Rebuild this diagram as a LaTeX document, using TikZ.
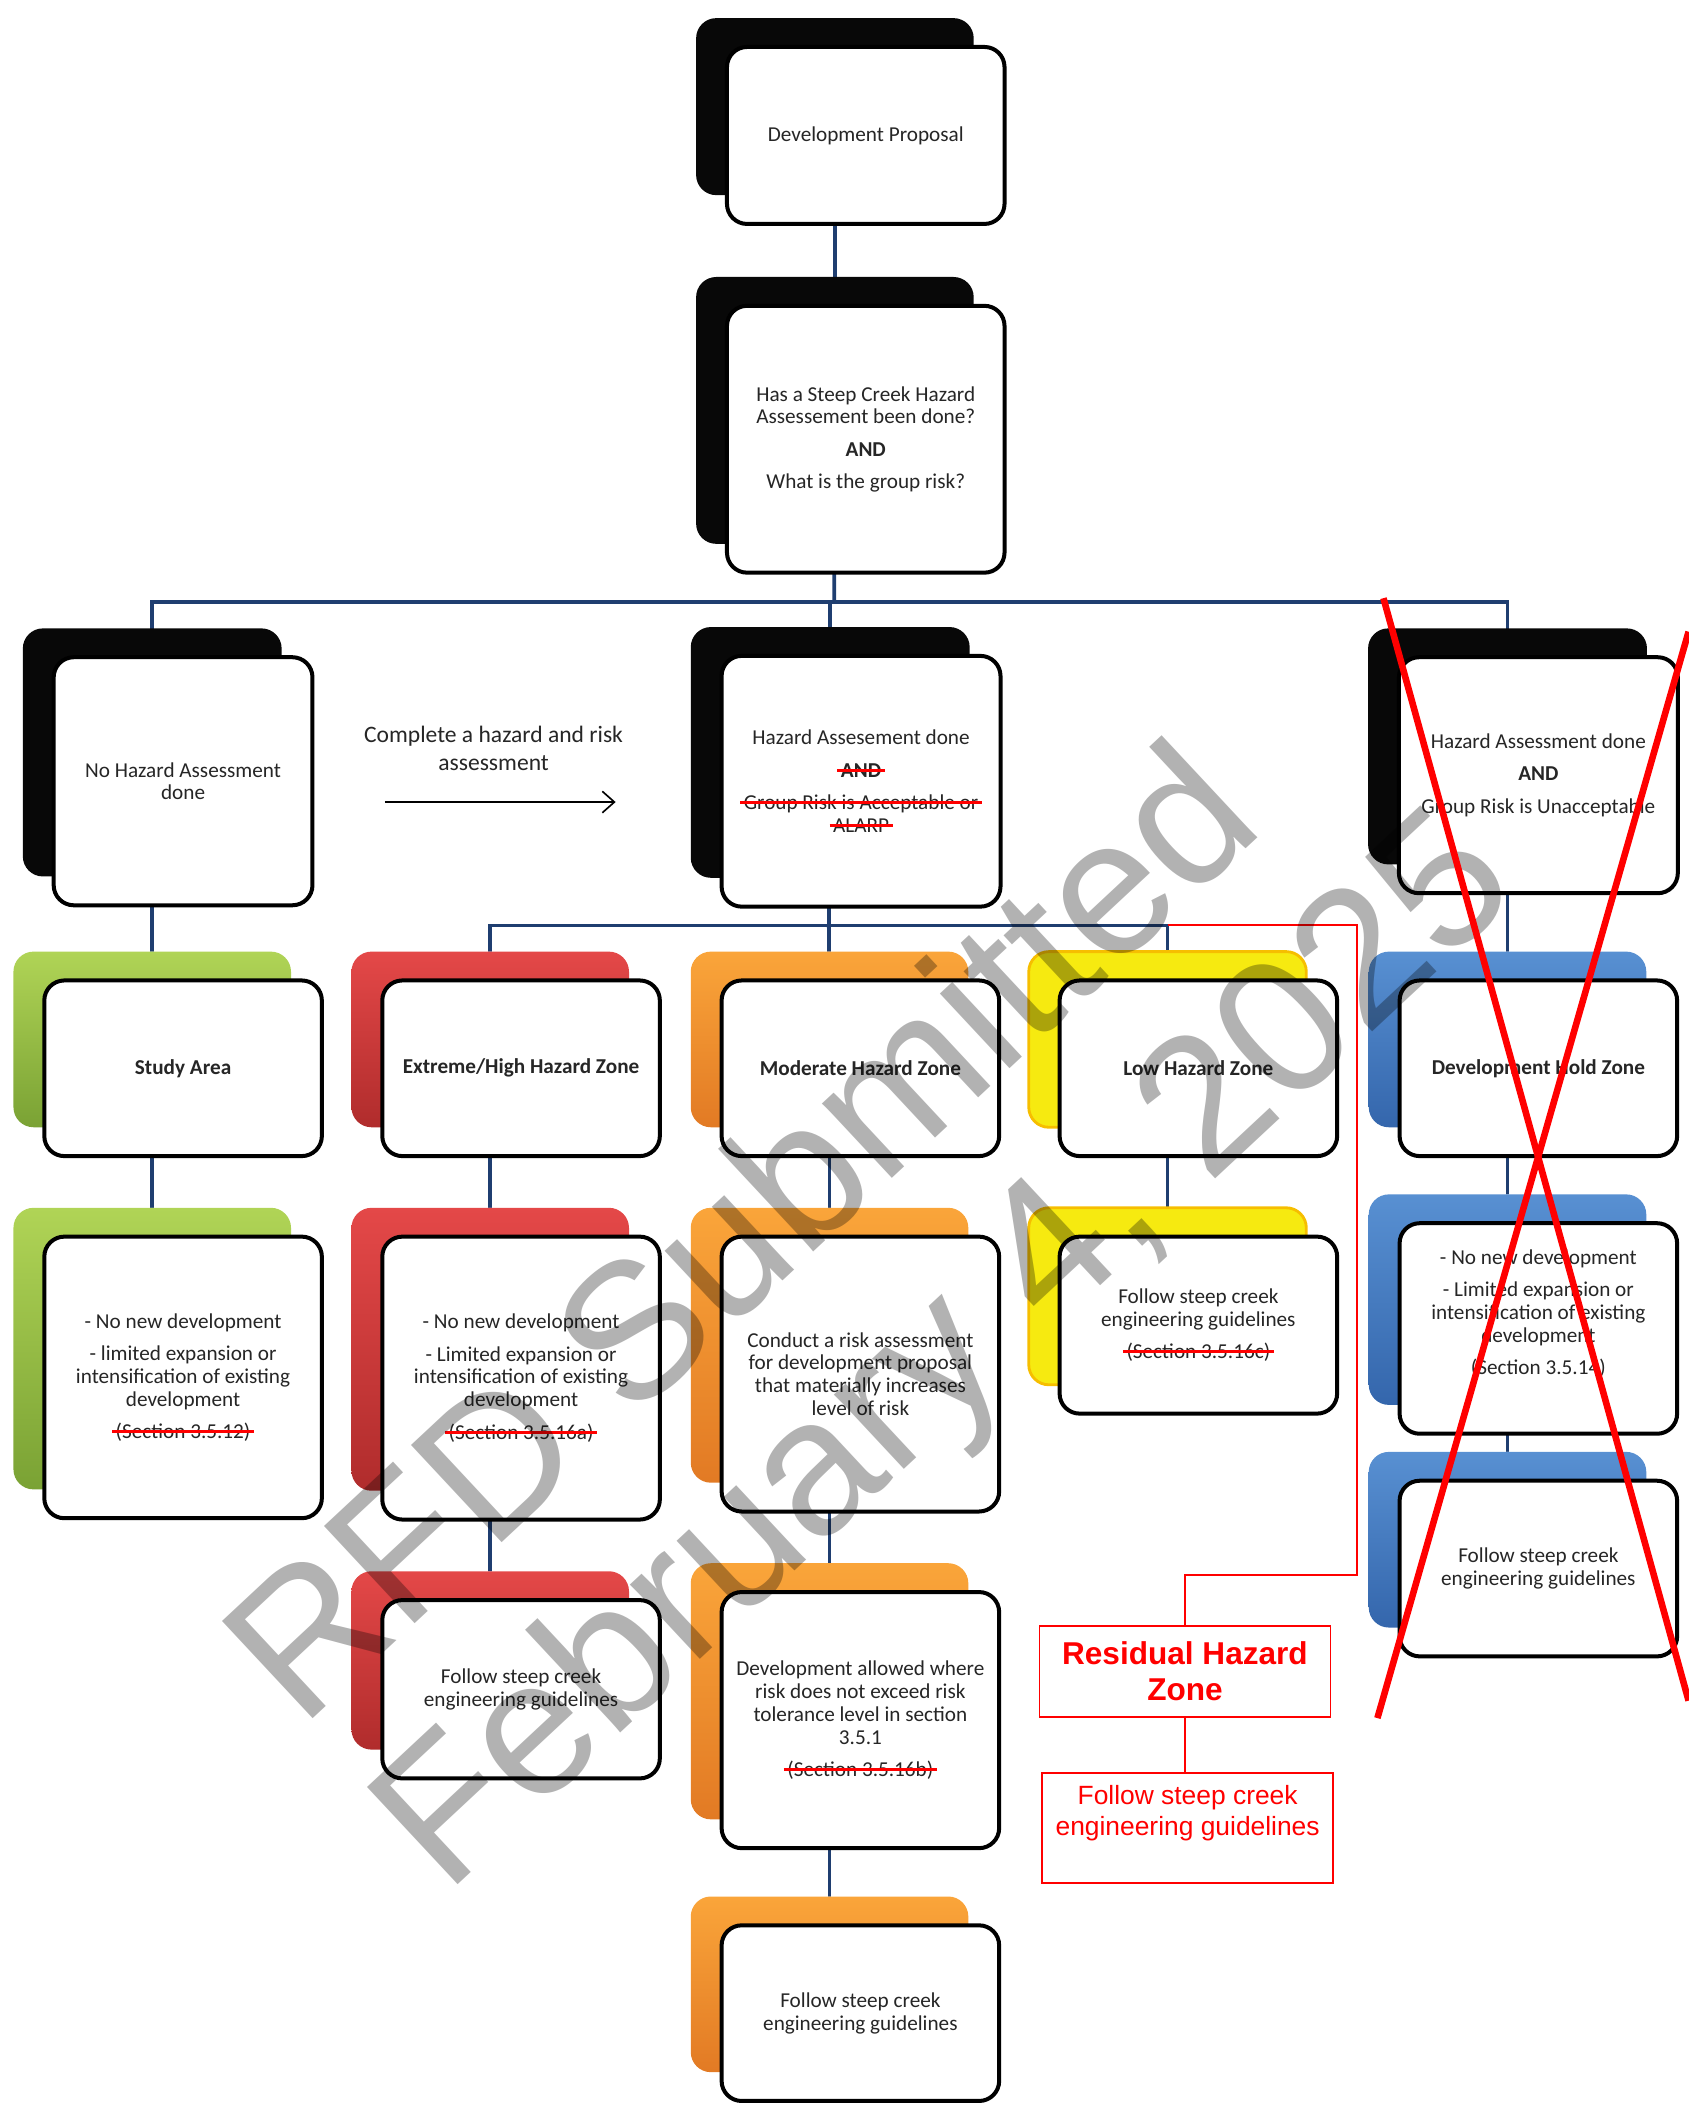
\documentclass[tikz,border=0pt]{standalone}
\usepackage{fontspec}
\setmainfont{Carlito}
\newfontfamily\arialfont{Liberation Sans}
\usetikzlibrary{positioning}
\usetikzlibrary{shadows}
\usetikzlibrary{backgrounds}
\usetikzlibrary{arrows.meta}

\definecolor{ink}{RGB}{38,38,38}
\definecolor{navy}{RGB}{31,62,112}
\definecolor{redline}{RGB}{255,0,0}
\definecolor{backblack}{RGB}{8,8,8}
\definecolor{greentop}{RGB}{176,212,86}
\definecolor{greenbot}{RGB}{122,162,52}
\definecolor{redtop}{RGB}{228,72,72}
\definecolor{redbot}{RGB}{176,44,44}
\definecolor{orangetop}{RGB}{250,165,58}
\definecolor{orangebot}{RGB}{226,122,36}
\definecolor{yellowfill}{RGB}{246,234,16}
\definecolor{yellowedge}{RGB}{246,190,0}
\definecolor{bluetop}{RGB}{88,144,210}
\definecolor{bluebot}{RGB}{52,102,172}

\newsavebox\strikebox
\newcommand\redout[1]{\sbox\strikebox{#1}\rlap{\usebox\strikebox}\kern-1.5pt\textcolor{redline}{\rule[0.55ex]{\dimexpr\wd\strikebox+3pt\relax}{1.2pt}}\kern-1.5pt}
\newcommand\boxfont{\fontsize{9}{9.7}\selectfont}

\tikzset{
  card/.style={draw=black, line width=1.7pt, fill=white, rounded corners=0.3cm,
    minimum width=4.14cm, align=center, text=ink, font=\boxfont, inner sep=2pt,
    copy shadow={shadow xshift=-0.46cm, shadow yshift=0.43cm, draw=none, #1}},
  card/.default={fill=backblack},
  blackcard/.style={card={fill=backblack}},
  greencard/.style={card={top color=greentop, bottom color=greenbot}},
  redcard/.style={card={top color=redtop, bottom color=redbot}},
  orangecard/.style={card={top color=orangetop, bottom color=orangebot}},
  yellowcard/.style={card={fill=yellowfill, draw=yellowedge, line width=1.2pt}},
  bluecard/.style={card={top color=bluetop, bottom color=bluebot}},
  link/.style={draw=navy, line width=1.6pt},
  redlink/.style={draw=redline, line width=0.8pt},
  redbox/.style={draw=redline, line width=0.8pt, minimum width=4.34cm, align=center, text=redline},
  flow/.style={-{Straight Barb[length=1.8mm,width=3.2mm]}, line width=0.7pt},
  wmark/.style={text=black, text opacity=0.3, font=\arialfont\fontsize{82}{90}\selectfont, inner sep=0pt},
  cross/.style={draw=redline, line width=2.8pt}
}

\begin{document}
\begin{tikzpicture}[x=0.02cm, y=-0.02cm]
  \useasboundingbox (0,0) rectangle (1259,1568);

  % proposal and question
  \node[blackcard, minimum height=2.64cm] (prop) at (645.5,101) {Development Proposal};
  \node[blackcard, minimum height=3.98cm] (ask) at (645.5,327.5)
    {Has a Steep Creek Hazard\\Assessement been done?\\[4pt]\textbf{AND}\\[4pt]What is the group risk?};

  % outcome of the assessment
  \node[blackcard, minimum width=3.86cm, minimum height=3.7cm] (nodone) at (136.5,582.5) {No Hazard Assessment\\done};
  \node[blackcard, minimum width=4.16cm, minimum height=3.74cm] (done) at (642,582.5)
    {Hazard Assesement done\\[4pt]\redout{\textbf{AND}}\\[4pt]\redout{Group Risk is Acceptable or}\\\redout{ALARP}};
  \node[blackcard, minimum width=4.16cm, minimum height=3.52cm] (unacc) at (1147,578)
    {Hazard Assessment done\\[4pt]\textbf{AND}\\[4pt]Group Risk is Unacceptable};
  \node[font=\fontsize{10}{12}\selectfont, text=ink, align=center] (todo) at (368,558) {Complete a hazard and risk\\assessment};
  \coordinate (todoS) at (287,598);
  \coordinate (todoE) at (459,598);

  % zones
  \node[greencard, minimum height=2.62cm] (study) at (136.5,796.5) {\textbf{Study Area}};
  \node[redcard, minimum height=2.62cm] (ext) at (388.5,796.5) {\textbf{Extreme/High Hazard Zone}};
  \node[orangecard, minimum height=2.62cm] (mod) at (641.5,796.5) {\textbf{Moderate Hazard Zone}};
  \node[yellowcard, minimum height=2.62cm] (low) at (893.5,796.5) {\textbf{Low Hazard Zone}};
  \node[bluecard, minimum height=2.62cm] (hold) at (1147,796.5) {\textbf{Development Hold Zone}};

  % what each zone allows
  \node[greencard, minimum height=4.2cm] (study2) at (136.5,1027)
    {- No new development\\[4pt]- limited expansion or\\intensification of existing\\development\\[4pt]\redout{(Section 3.5.12)}};
  \node[redcard, minimum height=4.22cm] (ext2) at (388.5,1027.5)
    {- No new development\\[4pt]- Limited expansion or\\intensification of existing\\development\\[4pt]\redout{(Section 3.5.16a)}};
  \node[orangecard, minimum height=4.1cm] (mod2) at (641.5,1024.5)
    {Conduct a risk assessment\\for development proposal\\that materially increases\\level of risk};
  \node[yellowcard, minimum height=2.64cm] (low2) at (893.5,988)
    {Follow steep creek\\engineering guidelines\\[4pt]\redout{(Section 3.5.16c)}};
  \node[bluecard, minimum height=3.14cm] (hold2) at (1147,990.5)
    {- No new development\\[4pt]- Limited expansion or\\intensification of existing\\development\\[4pt](Section 3.5.14)\\[0.14cm]\mbox{}};

  \node[redcard, minimum height=2.66cm] (ext3) at (388.5,1259.5) {Follow steep creek\\engineering guidelines};
  \node[orangecard, minimum height=3.82cm] (mod3) at (641.5,1282.5)
    {Development allowed where\\risk does not exceed risk\\tolerance level in section\\3.5.1\\[4pt]\redout{(Section 3.5.16b)}};
  \node[bluecard, minimum height=2.62cm] (hold3) at (1147,1169.5) {Follow steep creek\\engineering guidelines};
  \node[orangecard, minimum height=2.62cm] (mod4) at (641.5,1501) {Follow steep creek\\engineering guidelines};

  % residual hazard
  \node[redbox, minimum height=1.36cm, font=\arialfont\bfseries\fontsize{13.4}{15.3}\selectfont] (resid) at (883.5,1246) {Residual Hazard\\Zone};
  \node[redbox, minimum height=1.64cm, font=\arialfont\fontsize{11.2}{13}\selectfont] (guide) at (885.5,1363)
    {Follow steep creek\\engineering guidelines\\[0.07cm]\mbox{}};

  % tree lines
  \coordinate (busTop) at (622,449);
  \coordinate (busMid) at (618,690);
  \begin{scope}[on background layer]
    \draw[link] ([xshift=-0.46cm]prop.center) -- ([xshift=-0.46cm]ask.center);
    \draw[link] ([xshift=-0.46cm]ask.center) -- (busTop);
    \draw[link] ([xshift=-0.46cm]nodone.center) |- (busTop) -| ([xshift=-0.46cm]unacc.center);
    \draw[link] (busTop) -| ([xshift=-0.46cm]done.center);
    \draw[link] ([xshift=-0.46cm]done.center) -- (busMid);
    \draw[link] ([xshift=-0.46cm]ext.center) |- (busMid) -| ([xshift=-0.46cm]low.center);
    \draw[link] (busMid) -- ([xshift=-0.46cm]mod.center);
    \draw[link] ([xshift=-0.46cm]nodone.center) -- ([xshift=-0.46cm]study.center);
    \draw[link] ([xshift=-0.46cm]unacc.center) -- ([xshift=-0.46cm]hold.center);
    \draw[link] ([xshift=-0.46cm]study.center) -- ([xshift=-0.46cm]study2.center);
    \draw[link] ([xshift=-0.46cm]ext.center) -- ([xshift=-0.46cm]ext2.center) -- ([xshift=-0.46cm]ext3.center);
    \draw[link] ([xshift=-0.46cm]mod.center) -- ([xshift=-0.46cm]mod2.center) -- ([xshift=-0.46cm]mod3.center) -- ([xshift=-0.46cm]mod4.center);
    \draw[link] ([xshift=-0.46cm]low.center) -- ([xshift=-0.46cm]low2.center);
    \draw[link] ([xshift=-0.46cm]hold.center) -- ([xshift=-0.46cm]hold2.center) -- ([xshift=-0.46cm]hold3.center);
  \end{scope}

  \draw[flow] (todoS) -- (todoE);

  % residual branch
  \coordinate (redStart) at (871,690);
  \coordinate (redTurn) at (1012,1174);
  \draw[redlink] (redStart) -| (redTurn) -| (resid);
  \draw[redlink] (resid) -- (resid |- guide.north);

  % stamp
  \node[wmark, rotate=43] (wm1) at (550,916) {RFD Submitted};
  \node[wmark, rotate=43] (wm2) at (709,1012) {February 4, 2025};

  % struck out branch
  \draw[cross] (1031.5,446) -- (1259,1268);
  \draw[cross] (1259,471) -- (1027,1281);
\end{tikzpicture}
\end{document}
